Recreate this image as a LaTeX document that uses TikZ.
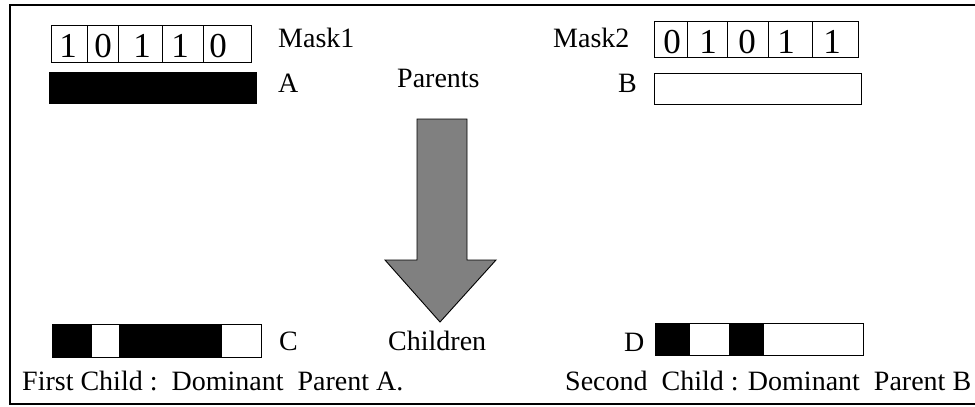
\documentclass[tikz,border=0pt]{standalone}
\usepackage{fontspec}
\setmainfont{Liberation Serif}
\usepackage{tikz}
\usetikzlibrary{positioning}
\tikzset{
  marco/.style={draw=black,line width=1.6pt},
  celda/.style={draw=black,line width=0.9pt},
  lleno/.style={fill=black},
  vacio/.style={fill=white,draw=black,line width=0.9pt},
  etiq/.style={inner sep=0pt,anchor=base west,font=\fontsize{28}{30}\selectfont},
  digito/.style={inner sep=0pt,anchor=base,font=\fontsize{35}{38}\selectfont},
  flecha/.style={fill=gray,draw=black,line width=0.9pt}
}

\begin{document}
\begin{tikzpicture}[x=1pt,y=-1pt]
\useasboundingbox (0,0) rectangle (975,407);
% marco
\draw[marco] (990,5) -- (10,5) -- (10,404) -- (990,404);
% padre A
\begin{scope}
\foreach \xa/\xb/\dx/\v [count=\i] in {51/87/68/1,87/118/103/0,118/162/142/1,162/203/180/1,203/251/218/0}{
  \draw[celda] (\xa,25) rectangle (\xb,62);
  \node[digito] (ma\i) at (\dx,57) {\v};
}
\fill[lleno] (49,72) rectangle (257,104);
\node[etiq] (mask1) at (278,47) {Mask1};
\node[etiq] (padA) at (278,92) {A};
\end{scope}
% padre B
\begin{scope}
\foreach \xa/\xb/\dx/\v [count=\i] in {654/687/672/0,687/727/708/1,727/768/747/0,768/812/786/1,812/858/832/1}{
  \draw[celda] (\xa,21) rectangle (\xb,57);
  \node[digito] (mb\i) at (\dx,53) {\v};
}
\draw[vacio] (654,73) rectangle (861,104);
\node[etiq] (mask2) at (553,47) {Mask2};
\node[etiq] (padB) at (618,92) {B};
\end{scope}
% flecha
\node[etiq] (padres) at (397,87) {Parents};
\draw[flecha] (417,119) -- (467,119) -- (467,260) -- (496,260) -- (440,322)
  -- (385,260) -- (417,260) -- cycle;
\node[etiq] (hijos) at (388,350) {Children};
% hijo C
\begin{scope}
\draw[vacio] (52,324) rectangle (261,357);
\fill[lleno] (52,324) rectangle (92,357);
\fill[lleno] (119,324) rectangle (222,357);
\draw[celda] (52,324) rectangle (261,357);
\node[etiq] (hijoC) at (279,350) {C};
\node[etiq] (textoC) at (22,390) {First Child :\ \ Dominant\ \ Parent A.};
\end{scope}
% hijo D
\begin{scope}
\draw[vacio] (655,323) rectangle (863,355);
\fill[lleno] (655,323) rectangle (690,355);
\fill[lleno] (729,323) rectangle (764,355);
\draw[celda] (655,323) rectangle (863,355);
\node[etiq] (hijoD) at (624,351) {D};
\node[etiq] (textoD) at (565,390) {Second\ \ Child : Dominant\ \ Parent B};
\end{scope}
\end{tikzpicture}
\end{document}
